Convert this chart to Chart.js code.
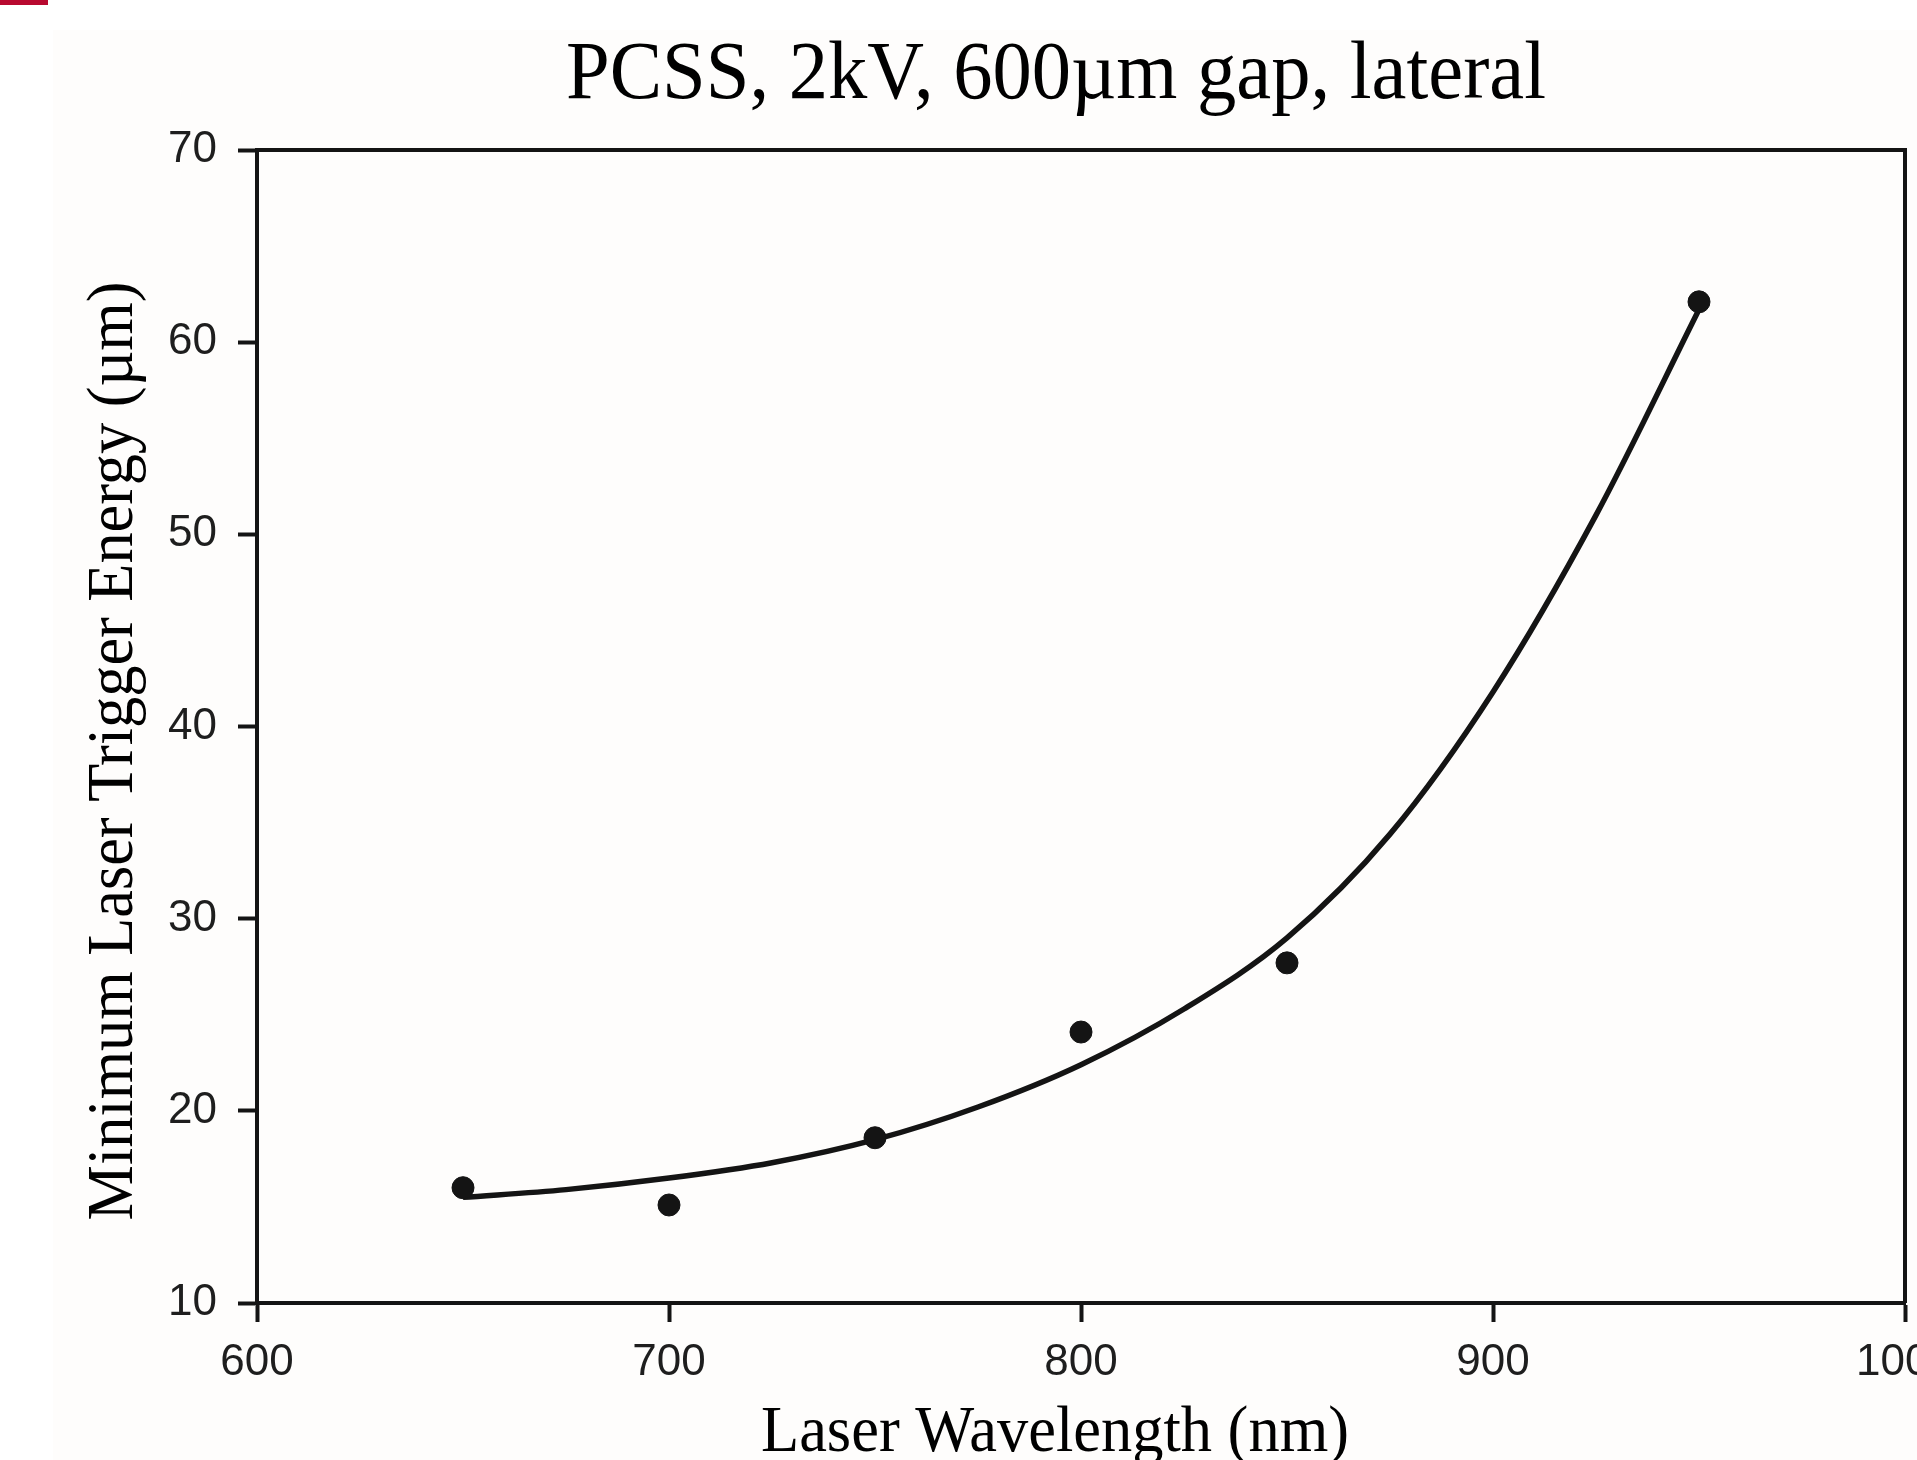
<!DOCTYPE html>
<html>
<head>
<meta charset="utf-8">
<title>PCSS trigger energy</title>
<script src="https://cdn.jsdelivr.net/npm/chart.js@4.4.1/dist/chart.umd.min.js"></script>
<style>
  html, body { margin: 0; padding: 0; background: #ffffff; }
  canvas { display: block; }
</style>
</head>
<body>
<canvas id="triggerChart" width="1917" height="1460"></canvas>
<script>
// measured points
const wavelengths = [650, 700, 750, 800, 850, 950];
const triggerEnergy = [16.0, 15.1, 18.6, 24.1, 27.7, 62.1];

// fitted curve, every 25 nm
const fitWavelengths = [650, 675, 700, 725, 750, 775, 800, 825, 850, 875, 900, 925, 950];
const fitEnergy = [15.5, 15.9, 16.5, 17.3, 18.5, 20.2, 22.4, 25.3, 29.0, 34.4, 41.8, 51.0, 61.7];

const xRange = [600, 1000];
const yRange = [10, 70];

const chartTitle = 'PCSS, 2kV, 600\u00b5m gap, lateral';
const xTitle = 'Laser Wavelength (nm)';
const yTitle = 'Minimum Laser Trigger Energy (\u00b5m)';

const ink = '#141414';

// draws a condensed serif string so it fits the given width
function condensedText(ctx, text, x, y, size, width, angle) {
    ctx.save();
    ctx.font = size + 'px "Liberation Serif", "Times New Roman", serif';
    const natural = ctx.measureText(text).width;
    ctx.translate(x, y);
    ctx.rotate(angle);
    ctx.scale(width / natural, 1);
    ctx.textAlign = 'center';
    ctx.textBaseline = 'alphabetic';
    ctx.fillStyle = '#000000';
    ctx.fillText(text, 0, 0);
    ctx.restore();
}

const slidePlugin = {
    id: 'slide',
    beforeDraw(chart) {
        const ctx = chart.ctx;
        ctx.save();
        ctx.fillStyle = '#ffffff';
        ctx.fillRect(0, 0, chart.width, chart.height);
        ctx.fillStyle = '#fefdfc';
        ctx.fillRect(53, 30, chart.width - 53, chart.height - 30);
        ctx.fillStyle = '#b8092f';
        ctx.fillRect(0, 0, 48, 5);
        ctx.restore();
    },
    afterDraw(chart) {
        const ctx = chart.ctx;
        const a = chart.chartArea;
        // top and right frame lines
        ctx.save();
        ctx.strokeStyle = ink;
        ctx.lineWidth = 4;
        ctx.beginPath();
        ctx.moveTo(a.left, a.top);
        ctx.lineTo(a.right, a.top);
        ctx.lineTo(a.right, a.bottom);
        ctx.stroke();
        ctx.restore();

        condensedText(ctx, chartTitle, 1056, 98, 82, 980, 0);
        condensedText(ctx, xTitle, 1055, 1451, 66, 588, 0);
        condensedText(ctx, yTitle, 132, 751, 65, 939, -Math.PI / 2);
    }
};

const ctx = document.getElementById('triggerChart').getContext('2d');
new Chart(ctx, {
    type: 'scatter',
    data: {
        datasets: [
            {
                label: 'Measured',
                data: wavelengths.map((w, i) => ({ x: w, y: triggerEnergy[i] })),
                backgroundColor: ink,
                borderColor: ink,
                pointRadius: 11,
                pointHoverRadius: 11,
                showLine: false
            },
            {
                label: 'Fit',
                data: fitWavelengths.map((w, i) => ({ x: w, y: fitEnergy[i] })),
                borderColor: ink,
                backgroundColor: ink,
                borderWidth: 5.5,
                pointRadius: 0,
                showLine: true,
                cubicInterpolationMode: 'monotone',
                fill: false
            }
        ]
    },
    options: {
        responsive: false,
        animation: false,
        devicePixelRatio: 1,
        layout: {
            padding: { top: 150, right: 10, left: 0, bottom: 0 }
        },
        plugins: {
            legend: { display: false },
            tooltip: { enabled: false },
            title: { display: false }
        },
        scales: {
            x: {
                type: 'linear',
                min: xRange[0],
                max: xRange[1],
                ticks: {
                    stepSize: 100,
                    color: '#1e1e1e',
                    padding: 14,
                    maxRotation: 0,
                    font: { family: '"Liberation Sans", Arial, sans-serif', size: 44 },
                    callback: (value) => String(value)
                },
                grid: {
                    drawOnChartArea: false,
                    drawTicks: true,
                    tickLength: 19,
                    tickWidth: 4,
                    tickColor: ink
                },
                border: { display: true, color: ink, width: 4 },
                afterFit(scale) {
                    scale.height = 157;
                    scale.paddingLeft = 0;
                    scale.paddingRight = 0;
                }
            },
            y: {
                type: 'linear',
                min: yRange[0],
                max: yRange[1],
                ticks: {
                    stepSize: 10,
                    color: '#1e1e1e',
                    padding: 21,
                    font: { family: '"Liberation Sans", Arial, sans-serif', size: 44 },
                    callback: (value) => String(value)
                },
                grid: {
                    drawOnChartArea: false,
                    drawTicks: true,
                    tickLength: 19,
                    tickWidth: 4,
                    tickColor: ink
                },
                border: { display: true, color: ink, width: 4 },
                afterFit(scale) {
                    scale.width = 257;
                    scale.paddingTop = 0;
                    scale.paddingBottom = 0;
                }
            }
        }
    },
    plugins: [slidePlugin]
});
</script>
</body>
</html>
